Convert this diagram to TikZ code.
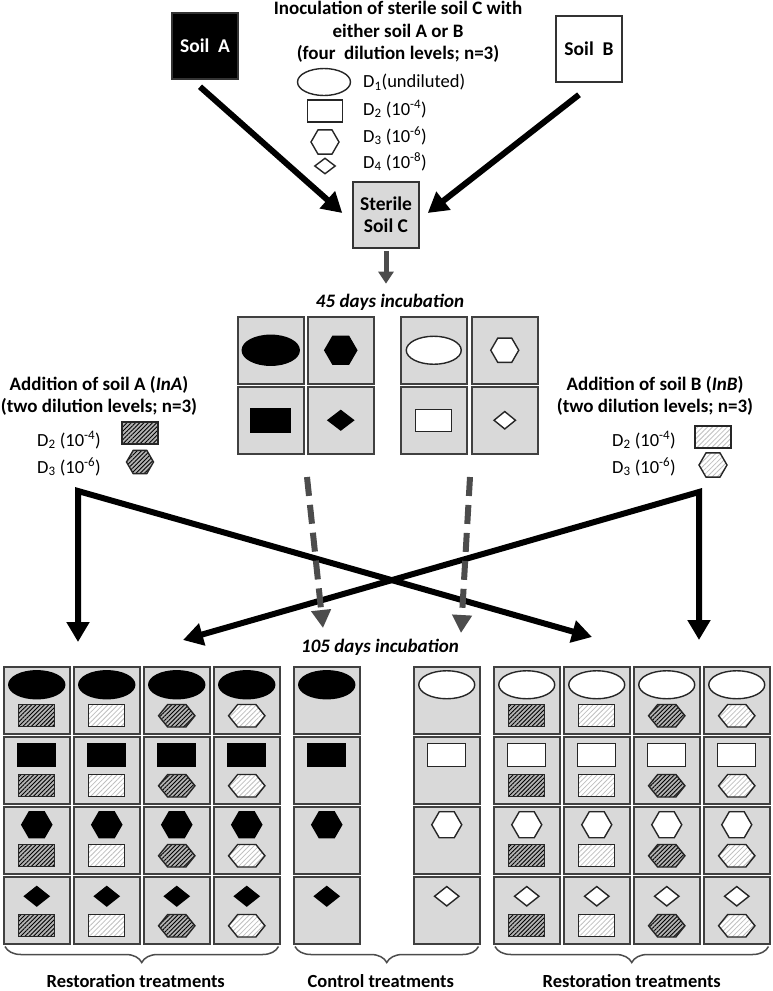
\documentclass[tikz,border=0pt]{standalone}
\usepackage{fontspec}
\setmainfont{Carlito}
\usetikzlibrary{positioning,calc,shapes.geometric,arrows.meta,patterns.meta,decorations.pathreplacing}

\tikzset{
  >={Triangle[length=20pt,width=22pt]},
  box/.style={draw=black!80, line width=1.5pt, minimum width=66pt, minimum height=66pt,
    inner sep=0pt, align=center, font=\fontsize{19.5}{22}\selectfont\bfseries},
  cell/.style={draw=black!75, fill=black!15, line width=1.5pt, minimum width=66pt,
    minimum height=67pt, inner sep=0pt, anchor=north west},
  shp/.style={inner sep=0pt, line width=1.4pt},
  ell/.style={shp, ellipse, minimum width=56pt, minimum height=28pt},
  rct/.style={shp, rectangle, minimum width=38pt, minimum height=23pt},
  hex/.style={shp, regular polygon, regular polygon sides=6, minimum size=30pt},
  dia/.style={shp, diamond, minimum width=25pt, minimum height=20pt},
  rcts/.style={shp, rectangle, minimum width=36pt, minimum height=22pt},
  hexs/.style={shp, regular polygon, regular polygon sides=6, minimum size=26pt,
    xscale=1.4, transform shape},
  blk/.style={draw=black, fill=black},
  wht/.style={draw=black!85, fill=white},
  hatA/.style={draw=black!85, preaction={fill=black!30},
    pattern={Lines[angle=45, distance=3pt, line width=0.9pt]}, pattern color=black},
  hatB/.style={draw=black!85, preaction={fill=white},
    pattern={Lines[angle=45, distance=3.5pt, line width=0.8pt]}, pattern color=black!25},
  txt/.style={inner sep=0pt, align=center, font=\fontsize{19}{22.5}\selectfont\bfseries},
  dil/.style={inner sep=0pt, font=\fontsize{18.5}{20}\selectfont},
  lab/.style={inner sep=0pt, font=\fontsize{18.5}{20}\selectfont\bfseries},
  inc/.style={inner sep=0pt, font=\fontsize{19}{20}\selectfont\bfseries\itshape},
  link/.style={line width=6pt},
  stub/.style={draw=black!70, line width=5pt, -{Triangle[length=12pt,width=15pt]}},
  carry/.style={draw=black!70, line width=6pt, dash pattern=on 19pt off 9pt,
    -{Triangle[length=18pt,width=19pt]}},
  brace/.style={draw=black!70, line width=1.5pt, decorate,
    decoration={brace, mirror, amplitude=16pt}},
}

\begin{document}
\begin{tikzpicture}[x=1pt, y=-1pt]
\useasboundingbox (0,0) rectangle (773,991);

% source soils and sterile soil
\node[box, fill=black, text=white] (soilA) at (205,46) {Soil\ \ A};
\node[box, fill=white] (soilB) at (589,49) {Soil\ \ B};
\node[box, fill=black!15] (soilC) at (386,215) {Sterile\\Soil C};
\node[txt] (inoc) at (398,32) {Inoculation of sterile soil C with\\either soil A or B\\(four\ \ dilution levels; n=3)};

% dilution legend
\node[ell, wht, minimum width=53pt, minimum height=27pt] (k1) at (324,82) {};
\node[rct, wht, minimum width=35pt, minimum height=22pt] (k2) at (325,111) {};
\node[hex, wht, minimum size=28pt] (k3) at (325,142) {};
\node[dia, wht, minimum width=21pt, minimum height=16pt] (k4) at (325,166) {};
\node[dil, anchor=west] (d1) at (363,82) {D\textsubscript{1}(undiluted)};
\node[dil, anchor=west] (d2) at (363,109) {D\textsubscript{2} (10\textsuperscript{-4})};
\node[dil, anchor=west] (d3) at (363,136) {D\textsubscript{3} (10\textsuperscript{-6})};
\node[dil, anchor=west] (d4) at (363,162) {D\textsubscript{4} (10\textsuperscript{-8})};

\draw[link, ->] ($(soilA.south)+(-5,7)$) -- ($(soilC.west)+(-10,-2)$);
\draw[link, ->] ($(soilB.south)+(-10,12)$) -- ($(soilC.east)+(8,-2)$);

% first incubation
\node[inc] (inc45) at (390,302) {45 days incubation};
\draw[stub, shorten <=2pt, shorten >=10pt] (soilC.south) -- (soilC.south |- inc45.north);

\foreach \x [count=\i] in {237,307,400,471}
  \foreach \y [count=\j] in {316,386}
    \node[cell] (g\i\j) at (\x,\y) {};
\node[ell, blk, minimum width=57pt, minimum height=30pt] (ga) at (g11) {};
\node[hex, blk, minimum size=32pt] (gb) at (g21) {};
\node[rct, blk, minimum width=40pt, minimum height=24pt] (gc) at (g12) {};
\node[dia, blk, minimum width=26pt, minimum height=20pt] (gd) at (g22) {};
\node[ell, wht, minimum width=55pt] (ge) at (g31) {};
\node[hex, wht, minimum size=28pt] (gf) at (g41) {};
\node[rct, wht, minimum width=36pt, minimum height=22pt] (gg) at (g32) {};
\node[dia, wht, minimum width=22pt, minimum height=18pt] (gh) at (g42) {};

% added soils
\node[txt] (addA) at (99,396) {Addition of soil A (\textit{InA})\\(two dilution levels; n=3)};
\node[dil, anchor=east] (a2) at (101,440) {D\textsubscript{2} (10\textsuperscript{-4})};
\node[dil, anchor=east] (a3) at (101,467) {D\textsubscript{3} (10\textsuperscript{-6})};
\node[rcts, hatA] (ka2) at (140,433) {};
\node[hex, hatA, minimum size=27pt] (ka3) at (140,462) {};

\node[txt] (addB) at (655,396) {Addition of soil B (\textit{InB})\\(two dilution levels; n=3)};
\node[dil, anchor=east] (b2) at (676,440) {D\textsubscript{2} (10\textsuperscript{-4})};
\node[dil, anchor=east] (b3) at (676,467) {D\textsubscript{3} (10\textsuperscript{-6})};
\node[rcts, hatB] (kb2) at (713,437) {};
\node[hex, hatB, minimum size=28pt] (kb3) at (713,465) {};

\coordinate (cornA) at (78,491);
\coordinate (cornB) at (699,492);
\coordinate (tipA) at (78,642);
\coordinate (tipAB) at (592,637);
\coordinate (tipB) at (699,640);
\coordinate (tipBA) at (183,640);
\draw[link, <->] (tipA) -- (cornA) -- (tipAB);
\draw[link, <->] (tipBA) -- (cornB) -- (tipB);

% controls carried over
\coordinate (dA) at (307,477);
\coordinate (dB) at (470,477);
\coordinate (eA) at (323,628);
\coordinate (eB) at (461,633);
\draw[carry] (dA) -- (eA);
\draw[carry] (dB) -- (eB);

% second incubation
\node[inc] (inc105) at (380,647) {105 days incubation};

\foreach \x [count=\i] in {3,73,143,213,293,413,493,563,633,703}
  \foreach \y [count=\j] in {666,736,806,876}
    \node[cell] (c\i-\j) at (\x,\y) {};

\foreach \i/\tone in {1/blk,2/blk,3/blk,4/blk,5/blk,6/wht,7/wht,8/wht,9/wht,10/wht} {
  \node[ell, \tone] (s\i-1) at ([yshift=15.5pt]c\i-1.center) {};
  \node[rct, \tone] (s\i-2) at ([yshift=15.5pt]c\i-2.center) {};
  \node[hex, \tone] (s\i-3) at ([yshift=15.5pt]c\i-3.center) {};
  \node[dia, \tone] (s\i-4) at ([yshift=14pt]c\i-4.center) {};
}
\foreach \i/\kind/\pat in {1/rcts/hatA,2/rcts/hatB,3/hexs/hatA,4/hexs/hatB,
                           7/rcts/hatA,8/rcts/hatB,9/hexs/hatA,10/hexs/hatB}
  \foreach \j in {1,...,4}
    \node[\kind, \pat] (t\i-\j) at ([yshift=-15.5pt]c\i-\j.center) {};

\draw[brace] ($(c1-4.south west)+(2,2)$) -- ($(c4-4.south east)+(-2,2)$)
  node[lab, midway, yshift=-35pt, xshift=-6pt] (rest1) {Restoration treatments};
\draw[brace] ($(c5-4.south west)+(2,2)$) -- ($(c6-4.south east)+(-2,2)$)
  node[lab, midway, yshift=-35pt, xshift=-6pt] (ctrl) {Control treatments};
\draw[brace] ($(c7-4.south west)+(2,2)$) -- ($(c10-4.south east)+(-2,2)$)
  node[lab, midway, yshift=-35pt] (rest2) {Restoration treatments};

\end{tikzpicture}
\end{document}
